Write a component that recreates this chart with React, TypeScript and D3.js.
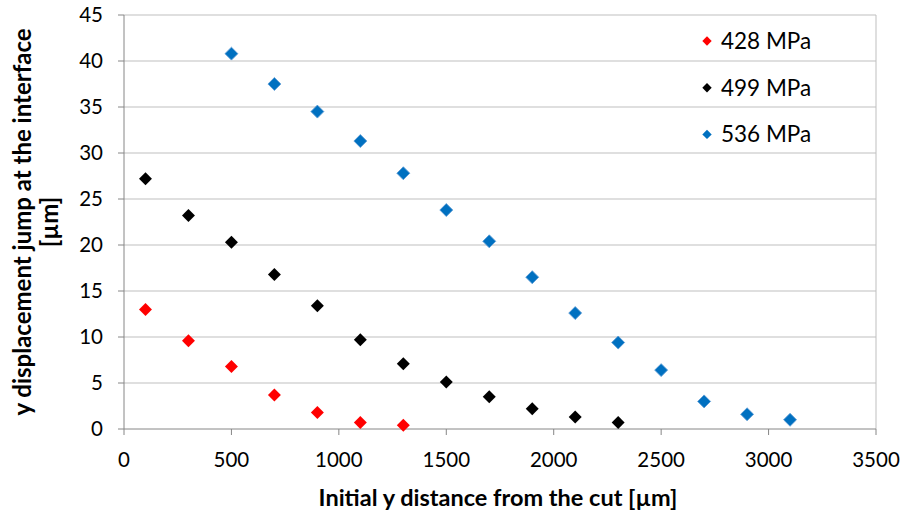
import React from 'react';
import * as d3 from 'd3';

const xValues428 = [100, 300, 500, 700, 900, 1100, 1300];
const yValues428 = [13.0, 9.6, 6.8, 3.7, 1.8, 0.7, 0.4];

const xValues499 = [100, 300, 500, 700, 900, 1100, 1300, 1500, 1700, 1900, 2100, 2300];
const yValues499 = [27.2, 23.2, 20.3, 16.8, 13.4, 9.7, 7.1, 5.1, 3.5, 2.2, 1.3, 0.7];

const xValues536 = [500, 700, 900, 1100, 1300, 1500, 1700, 1900, 2100, 2300, 2500, 2700, 2900, 3100];
const yValues536 = [40.8, 37.5, 34.5, 31.3, 27.8, 23.8, 20.4, 16.5, 12.6, 9.4, 6.4, 3.0, 1.6, 1.0];

const seriesNames = ['428 MPa', '499 MPa', '536 MPa'];
const seriesColors = ['#ff0000', '#000000', '#0070c0'];

const xTicks = [0, 500, 1000, 1500, 2000, 2500, 3000, 3500];
const yTicks = [0, 5, 10, 15, 20, 25, 30, 35, 40, 45];

const series = [
  { name: seriesNames[0], color: seriesColors[0], xs: xValues428, ys: yValues428 },
  { name: seriesNames[1], color: seriesColors[1], xs: xValues499, ys: yValues499 },
  { name: seriesNames[2], color: seriesColors[2], xs: xValues536, ys: yValues536 },
];

const width = 901;
const height = 514;
const margin = { top: 15, right: 25, bottom: 85, left: 124 };
const font = 'Lato, "Open Sans", sans-serif';

// diamond = square rotated 45deg
const diamond = d3.symbol().type(d3.symbolSquare).size(84)();
const legendDiamond = d3.symbol().type(d3.symbolSquare).size(44)();

const App = () => {
  const innerWidth = width - margin.left - margin.right;
  const innerHeight = height - margin.top - margin.bottom;

  const xScale = d3.scaleLinear().domain([0, 3500]).range([0, innerWidth]);
  const yScale = d3.scaleLinear().domain([0, 45]).range([innerHeight, 0]);

  return (
    <svg
      width={width}
      height={height}
      style={{ position: 'absolute', left: 0, top: 0, background: '#fff', fontFamily: font }}
    >
      <g transform={`translate(${margin.left}, ${margin.top})`}>
        {/* Grid lines */}
        {yTicks.filter(t => t > 0).map(t => (
          <line key={`g-${t}`} x1={0} x2={innerWidth} y1={yScale(t)} y2={yScale(t)} stroke="#bfbfbf" strokeWidth={1} />
        ))}
        <line x1={innerWidth} x2={innerWidth} y1={0} y2={innerHeight} stroke="#bfbfbf" strokeWidth={1} />

        {/* Axes */}
        <line x1={0} x2={innerWidth} y1={innerHeight} y2={innerHeight} stroke="#868686" strokeWidth={1} />
        <line x1={0} x2={0} y1={0} y2={innerHeight} stroke="#868686" strokeWidth={1} />
        {xTicks.map(t => (
          <line key={`xt-${t}`} x1={xScale(t)} x2={xScale(t)} y1={innerHeight} y2={innerHeight + 6} stroke="#868686" />
        ))}
        {yTicks.map(t => (
          <line key={`yt-${t}`} x1={-6} x2={0} y1={yScale(t)} y2={yScale(t)} stroke="#868686" />
        ))}

        {/* Tick labels */}
        {xTicks.map(t => (
          <text key={`xl-${t}`} x={xScale(t)} y={innerHeight + 38} textAnchor="middle" fontSize={20.5} fill="#000">
            {t}
          </text>
        ))}
        {yTicks.map(t => (
          <text key={`yl-${t}`} x={-21} y={yScale(t) + 7} textAnchor="end" fontSize={20.5} fill="#000">
            {t}
          </text>
        ))}

        {/* Points */}
        {series.map(s =>
          s.xs.map((x, i) => (
            <path
              key={`${s.name}-${x}`}
              d={diamond}
              transform={`translate(${xScale(x)}, ${yScale(s.ys[i])}) rotate(45)`}
              fill={s.color}
              stroke={s.color === '#0070c0' ? '#5b9bd5' : 'none'}
              strokeWidth={0.8}
            />
          ))
        )}

        {/* Legend */}
        {series.map((s, i) => (
          <g key={`lg-${s.name}`} transform={`translate(${583}, ${26 + i * 46.7})`}>
            <path d={legendDiamond} transform="rotate(45)" fill={s.color} />
            <text x={14} y={8} fontSize={22.5} fill="#000">{s.name}</text>
          </g>
        ))}
      </g>

      {/* Axis titles */}
      <text x={498} y={506} textAnchor="middle" fontSize={23.5} fontWeight="bold" fill="#000">
        Initial y distance from the cut [µm]
      </text>
      <text transform={`translate(31, ${margin.top + innerHeight / 2}) rotate(-90)`} textAnchor="middle" fontSize={24} fontWeight="bold" fill="#000">
        y displacement jump at the interface
      </text>
      <text transform={`translate(58, ${margin.top + innerHeight / 2}) rotate(-90)`} textAnchor="middle" fontSize={24} fontWeight="bold" fill="#000">
        [µm]
      </text>
    </svg>
  );
};

export default App;
